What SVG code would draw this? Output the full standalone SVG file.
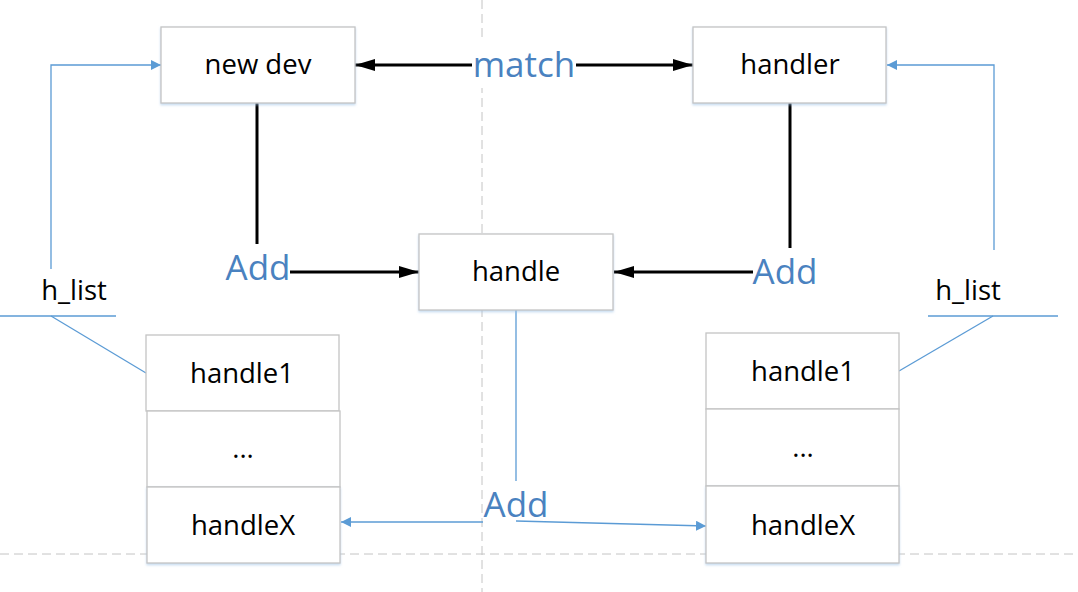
<svg xmlns="http://www.w3.org/2000/svg" width="1078" height="592" viewBox="0 0 1078 592">
<style>
.box{fill:#fff;stroke:#c4c4c4;stroke-width:1.3}
.t{font-family:"Open Sans","Noto Sans",sans-serif;font-size:27.5px;fill:#000;text-anchor:middle}
.lbl{font-family:"Open Sans","Noto Sans",sans-serif;font-size:35px;fill:#4a82c0;text-anchor:middle}
.dash{stroke:#c4c4c4;stroke-width:1;stroke-dasharray:9 5;fill:none}
.blk{stroke:#000;stroke-width:3;fill:none}
.blu{stroke:#5b9bd5;stroke-width:1.3;fill:none}
</style>
<defs>
<marker id="ab" viewBox="0 0 20 12" refX="20" refY="6" markerWidth="20" markerHeight="12" markerUnits="userSpaceOnUse" orient="auto"><path d="M0,0 L20,6 L0,12 z" fill="#000"/></marker>
<marker id="au" viewBox="0 0 10 10" refX="10" refY="5" markerWidth="10" markerHeight="10" markerUnits="userSpaceOnUse" orient="auto"><path d="M0,0 L10,5 L0,10 z" fill="#5b9bd5"/></marker>
<filter id="sh" x="-10%" y="-10%" width="120%" height="130%"><feDropShadow dx="0" dy="1.5" stdDeviation="1" flood-color="#9dc3e6" flood-opacity="0.6"/></filter>
</defs>
<rect width="1078" height="592" fill="#fff"/>
<g id="guides">
<line class="dash" x1="482" y1="0" x2="482" y2="592"/>
<line class="dash" x1="0" y1="554" x2="1078" y2="554"/>
</g>
<g id="connectors">
<line class="blk" x1="257" y1="102" x2="257" y2="244"/>
<line class="blk" x1="790" y1="102" x2="790" y2="248"/>
<line class="blk" x1="290" y1="272" x2="419" y2="272" marker-end="url(#ab)"/>
<line class="blk" x1="753" y1="272" x2="614" y2="272" marker-end="url(#ab)"/>
<line class="blk" x1="472" y1="65" x2="355" y2="65" marker-end="url(#ab)"/>
<line class="blk" x1="575" y1="65" x2="693" y2="65" marker-end="url(#ab)"/>
<polyline class="blu" points="51,269 51,65 161,65" marker-end="url(#au)"/>
<polyline class="blu" points="994,250 994,65 887,65" marker-end="url(#au)"/>
<line class="blu" x1="0" y1="316" x2="116" y2="316"/>
<line class="blu" x1="51" y1="316" x2="146" y2="373"/>
<line class="blu" x1="928" y1="316" x2="1058" y2="316"/>
<line class="blu" x1="993" y1="316" x2="899" y2="371"/>
<line class="blu" x1="516" y1="310" x2="516" y2="481"/>
<line class="blu" x1="483" y1="522" x2="341" y2="522" marker-end="url(#au)"/>
<line class="blu" x1="516" y1="521" x2="706" y2="526" marker-end="url(#au)"/>
</g>
<g id="match">
<rect x="472" y="38" width="104" height="50" fill="#fff"/>
<text class="lbl" x="524" y="77">match</text>
</g>
<g id="add-left"><text class="lbl" x="258" y="280">Add</text></g>
<g id="add-right"><text class="lbl" x="785" y="284">Add</text></g>
<g id="add-bottom"><text class="lbl" x="516" y="517">Add</text></g>
<g id="new-dev"><rect class="box" filter="url(#sh)" x="161" y="27" width="194" height="76"/><text class="t" x="258" y="74">new dev</text></g>
<g id="handler"><rect class="box" filter="url(#sh)" x="693" y="27" width="193" height="76"/><text class="t" x="790" y="74">handler</text></g>
<g id="handle"><rect class="box" filter="url(#sh)" x="419" y="234" width="194" height="76"/><text class="t" x="516" y="281">handle</text></g>
<g id="h-list-left"><text class="t" x="74" y="300">h_list</text></g>
<g id="h-list-right"><text class="t" x="968" y="300">h_list</text></g>
<g id="left-handle1"><rect class="box" x="146" y="335" width="193" height="76"/><text class="t" x="242" y="383">handle1</text></g>
<g id="left-dots"><rect class="box" x="147" y="411" width="193" height="76"/><text class="t" x="243" y="458">...</text></g>
<g id="left-handleX"><rect class="box" filter="url(#sh)" x="147" y="487" width="193" height="76"/><text class="t" x="243" y="535">handleX</text></g>
<g id="right-handle1"><rect class="box" x="706" y="333" width="193" height="76"/><text class="t" x="803" y="381">handle1</text></g>
<g id="right-dots"><rect class="box" x="706" y="409" width="193" height="77"/><text class="t" x="803" y="457">...</text></g>
<g id="right-handleX"><rect class="box" filter="url(#sh)" x="706" y="486" width="193" height="77"/><text class="t" x="803" y="535">handleX</text></g>
</svg>
